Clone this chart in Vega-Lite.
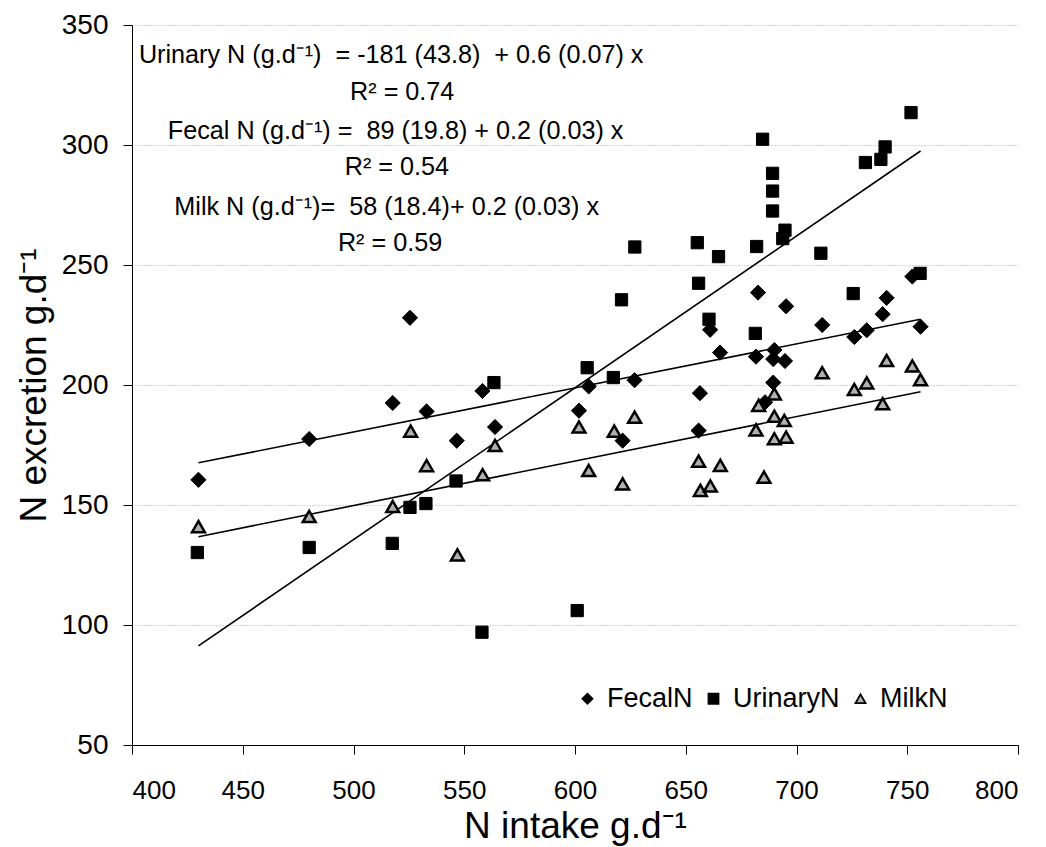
{
  "$schema": "https://vega.github.io/schema/vega-lite/v6.json",
  "width": 886,
  "height": 720,
  "autosize": {"type": "none"},
  "padding": {"left": 132, "top": 25, "right": 28, "bottom": 102},
  "background": "white",
  "config": {
    "view": {"stroke": null},
    "font": "Liberation Sans",
    "axis": {
      "labelColor": "black",
      "titleColor": "black",
      "domainColor": "black",
      "tickColor": "black",
      "titleFontWeight": "normal",
      "labelFont": "Liberation Sans",
      "titleFont": "Liberation Sans"
    },
    "legend": {
      "title": null, "orient": "none", "direction": "horizontal",
      "legendX": 442, "legendY": 660,
      "labelFontSize": 27, "labelColor": "black", "symbolSize": 100,
      "symbolStrokeWidth": 1.8,
      "columnPadding": 7, "labelOffset": 6
    }
  },
  "datasets": {
    "points": [
      {"intake": 430, "excretion": 160.5, "series": "FecalN"},
      {"intake": 480, "excretion": 177.5, "series": "FecalN"},
      {"intake": 517.7, "excretion": 192.5, "series": "FecalN"},
      {"intake": 525.5, "excretion": 228, "series": "FecalN"},
      {"intake": 533, "excretion": 189, "series": "FecalN"},
      {"intake": 546.6, "excretion": 176.8, "series": "FecalN"},
      {"intake": 558.2, "excretion": 197.5, "series": "FecalN"},
      {"intake": 563.9, "excretion": 182.5, "series": "FecalN"},
      {"intake": 601.8, "excretion": 189.3, "series": "FecalN"},
      {"intake": 606.2, "excretion": 199.4, "series": "FecalN"},
      {"intake": 621.5, "excretion": 176.8, "series": "FecalN"},
      {"intake": 626.9, "excretion": 202, "series": "FecalN"},
      {"intake": 655.8, "excretion": 181, "series": "FecalN"},
      {"intake": 656.4, "excretion": 196.6, "series": "FecalN"},
      {"intake": 661, "excretion": 223, "series": "FecalN"},
      {"intake": 665.5, "excretion": 213.5, "series": "FecalN"},
      {"intake": 681.7, "excretion": 211.8, "series": "FecalN"},
      {"intake": 682.6, "excretion": 238.5, "series": "FecalN"},
      {"intake": 685.8, "excretion": 192.8, "series": "FecalN"},
      {"intake": 689.5, "excretion": 201, "series": "FecalN"},
      {"intake": 689.5, "excretion": 210.8, "series": "FecalN"},
      {"intake": 690, "excretion": 214.6, "series": "FecalN"},
      {"intake": 694.8, "excretion": 210, "series": "FecalN"},
      {"intake": 695.3, "excretion": 232.8, "series": "FecalN"},
      {"intake": 711.6, "excretion": 225, "series": "FecalN"},
      {"intake": 726.1, "excretion": 220, "series": "FecalN"},
      {"intake": 731.7, "excretion": 222.8, "series": "FecalN"},
      {"intake": 738.9, "excretion": 229.5, "series": "FecalN"},
      {"intake": 740.7, "excretion": 236.3, "series": "FecalN"},
      {"intake": 752.3, "excretion": 245.2, "series": "FecalN"},
      {"intake": 756, "excretion": 224.3, "series": "FecalN"},
      {"intake": 429.5, "excretion": 130.2, "series": "UrinaryN"},
      {"intake": 480, "excretion": 132.3, "series": "UrinaryN"},
      {"intake": 517.5, "excretion": 134, "series": "UrinaryN"},
      {"intake": 525.5, "excretion": 149, "series": "UrinaryN"},
      {"intake": 532.7, "excretion": 150.6, "series": "UrinaryN"},
      {"intake": 546.3, "excretion": 160, "series": "UrinaryN"},
      {"intake": 558, "excretion": 97, "series": "UrinaryN"},
      {"intake": 563.4, "excretion": 201, "series": "UrinaryN"},
      {"intake": 601, "excretion": 106, "series": "UrinaryN"},
      {"intake": 605.5, "excretion": 207.2, "series": "UrinaryN"},
      {"intake": 617.3, "excretion": 203.1, "series": "UrinaryN"},
      {"intake": 621, "excretion": 235.5, "series": "UrinaryN"},
      {"intake": 627, "excretion": 257.5, "series": "UrinaryN"},
      {"intake": 655.2, "excretion": 259.3, "series": "UrinaryN"},
      {"intake": 655.8, "excretion": 242.4, "series": "UrinaryN"},
      {"intake": 660.5, "excretion": 227.4, "series": "UrinaryN"},
      {"intake": 664.8, "excretion": 253.5, "series": "UrinaryN"},
      {"intake": 681.4, "excretion": 221.5, "series": "UrinaryN"},
      {"intake": 682, "excretion": 257.7, "series": "UrinaryN"},
      {"intake": 684.7, "excretion": 302.4, "series": "UrinaryN"},
      {"intake": 689.2, "excretion": 288.2, "series": "UrinaryN"},
      {"intake": 689.2, "excretion": 280.8, "series": "UrinaryN"},
      {"intake": 689.2, "excretion": 272.5, "series": "UrinaryN"},
      {"intake": 693.8, "excretion": 261, "series": "UrinaryN"},
      {"intake": 694.8, "excretion": 264.5, "series": "UrinaryN"},
      {"intake": 711, "excretion": 254.9, "series": "UrinaryN"},
      {"intake": 725.6, "excretion": 238.1, "series": "UrinaryN"},
      {"intake": 731.1, "excretion": 292.7, "series": "UrinaryN"},
      {"intake": 738.1, "excretion": 294, "series": "UrinaryN"},
      {"intake": 740, "excretion": 299.2, "series": "UrinaryN"},
      {"intake": 751.7, "excretion": 313.5, "series": "UrinaryN"},
      {"intake": 755.8, "excretion": 246.5, "series": "UrinaryN"},
      {"intake": 430, "excretion": 141, "series": "MilkN"},
      {"intake": 480, "excretion": 145.2, "series": "MilkN"},
      {"intake": 517.7, "excretion": 149.4, "series": "MilkN"},
      {"intake": 525.8, "excretion": 180.8, "series": "MilkN"},
      {"intake": 533, "excretion": 166.4, "series": "MilkN"},
      {"intake": 546.9, "excretion": 129.2, "series": "MilkN"},
      {"intake": 558.3, "excretion": 162.6, "series": "MilkN"},
      {"intake": 563.9, "excretion": 174.8, "series": "MilkN"},
      {"intake": 601.8, "excretion": 182.5, "series": "MilkN"},
      {"intake": 606.2, "excretion": 164.4, "series": "MilkN"},
      {"intake": 617.7, "excretion": 180.8, "series": "MilkN"},
      {"intake": 621.5, "excretion": 158.8, "series": "MilkN"},
      {"intake": 626.9, "excretion": 186.6, "series": "MilkN"},
      {"intake": 655.8, "excretion": 168.3, "series": "MilkN"},
      {"intake": 656.6, "excretion": 156.1, "series": "MilkN"},
      {"intake": 661.1, "excretion": 157.9, "series": "MilkN"},
      {"intake": 665.6, "excretion": 166.5, "series": "MilkN"},
      {"intake": 681.7, "excretion": 181.3, "series": "MilkN"},
      {"intake": 682.9, "excretion": 191.5, "series": "MilkN"},
      {"intake": 685.3, "excretion": 161.6, "series": "MilkN"},
      {"intake": 690, "excretion": 196.3, "series": "MilkN"},
      {"intake": 690, "excretion": 187, "series": "MilkN"},
      {"intake": 690, "excretion": 177.6, "series": "MilkN"},
      {"intake": 694.5, "excretion": 185.2, "series": "MilkN"},
      {"intake": 695.3, "excretion": 178.3, "series": "MilkN"},
      {"intake": 711.6, "excretion": 205.1, "series": "MilkN"},
      {"intake": 726.1, "excretion": 198.1, "series": "MilkN"},
      {"intake": 731.7, "excretion": 200.9, "series": "MilkN"},
      {"intake": 738.9, "excretion": 192.2, "series": "MilkN"},
      {"intake": 740.7, "excretion": 210.2, "series": "MilkN"},
      {"intake": 752.3, "excretion": 207.9, "series": "MilkN"},
      {"intake": 756, "excretion": 202.2, "series": "MilkN"}
    ],
    "fits": [
      {"series": "UrinaryN", "intake": 430, "excretion": 91.3},
      {"series": "UrinaryN", "intake": 756, "excretion": 297.5},
      {"series": "FecalN", "intake": 430, "excretion": 167.6},
      {"series": "FecalN", "intake": 756, "excretion": 227.4},
      {"series": "MilkN", "intake": 430, "excretion": 136.8},
      {"series": "MilkN", "intake": 756, "excretion": 197.2}
    ],
    "notes": [
      {"text": "Urinary N (g.d⁻¹) \u00a0= -181 (43.8) \u00a0+ 0.6 (0.07) x", "x": 517, "y": 337.5},
      {"text": "R² = 0.74", "x": 522, "y": 322},
      {"text": "Fecal N (g.d⁻¹) = \u00a089 (19.8) + 0.2 (0.03) x", "x": 519, "y": 306},
      {"text": "R² = 0.54", "x": 519.6, "y": 291},
      {"text": "Milk N (g.d⁻¹)= \u00a058 (18.4)+ 0.2 (0.03) x", "x": 515, "y": 274},
      {"text": "R² = 0.59", "x": 516.5, "y": 259}
    ]
  },
  "layer": [
    {
      "data": {"name": "fits"},
      "mark": {"type": "line", "color": "black", "strokeWidth": 1.6},
      "encoding": {
        "x": {
          "field": "intake", "type": "quantitative",
          "scale": {"domain": [400, 800], "nice": false},
          "axis": {
            "title": "N intake g.d⁻¹",
            "values": [400, 450, 500, 550, 600, 650, 700, 750, 800],
            "grid": false, "tickSize": 9, "labelPadding": 23,
            "labelFontSize": 26, "titleFontSize": 37, "titlePadding": 5
          }
        },
        "y": {
          "field": "excretion", "type": "quantitative",
          "scale": {"domain": [50, 350], "nice": false, "zero": false},
          "axis": {
            "title": "N excretion g.d⁻¹",
            "values": [50, 100, 150, 200, 250, 300, 350],
            "grid": true, "gridColor": "#aaaaaa", "gridDash": [1, 2], "gridWidth": 1,
            "tickSize": 9, "labelPadding": 15,
            "labelFontSize": 28, "titleFontSize": 37, "titlePadding": 8
          }
        },
        "detail": {"field": "series"}
      }
    },
    {
      "data": {"name": "points"},
      "transform": [{"filter": "datum.series === 'FecalN'"}],
      "mark": {"type": "point", "filled": true, "opacity": 1, "strokeWidth": 1, "size": 230},
      "encoding": {
        "x": {"field": "intake", "type": "quantitative"},
        "y": {"field": "excretion", "type": "quantitative"},
        "shape": {
          "field": "series", "type": "nominal",
          "scale": {"domain": ["FecalN", "UrinaryN", "MilkN"], "range": ["diamond", "square", "triangle-up"]}
        },
        "fill": {
          "field": "series", "type": "nominal",
          "scale": {"domain": ["FecalN", "UrinaryN", "MilkN"], "range": ["black", "black", "#b0b0b0"]}
        },
        "stroke": {
          "field": "series", "type": "nominal",
          "scale": {"domain": ["FecalN", "UrinaryN", "MilkN"], "range": ["black", "black", "black"]}
        }
      }
    },
    {
      "data": {"name": "points"},
      "transform": [{"filter": "datum.series === 'UrinaryN'"}],
      "mark": {"type": "point", "filled": true, "opacity": 1, "strokeWidth": 1, "size": 150},
      "encoding": {
        "x": {"field": "intake", "type": "quantitative"},
        "y": {"field": "excretion", "type": "quantitative"},
        "shape": {"field": "series", "type": "nominal"},
        "fill": {"field": "series", "type": "nominal"},
        "stroke": {"field": "series", "type": "nominal"}
      }
    },
    {
      "data": {"name": "points"},
      "transform": [{"filter": "datum.series === 'MilkN'"}],
      "mark": {"type": "point", "filled": true, "opacity": 1, "strokeWidth": 2.5, "size": 165},
      "encoding": {
        "x": {"field": "intake", "type": "quantitative"},
        "y": {"field": "excretion", "type": "quantitative"},
        "shape": {"field": "series", "type": "nominal"},
        "fill": {"field": "series", "type": "nominal"},
        "stroke": {"field": "series", "type": "nominal"}
      }
    },
    {
      "data": {"name": "notes"},
      "mark": {"type": "text", "fontSize": 25.2, "color": "black", "font": "Liberation Sans"},
      "encoding": {
        "x": {"field": "x", "type": "quantitative"},
        "y": {"field": "y", "type": "quantitative"},
        "text": {"field": "text"}
      }
    }
  ]
}
